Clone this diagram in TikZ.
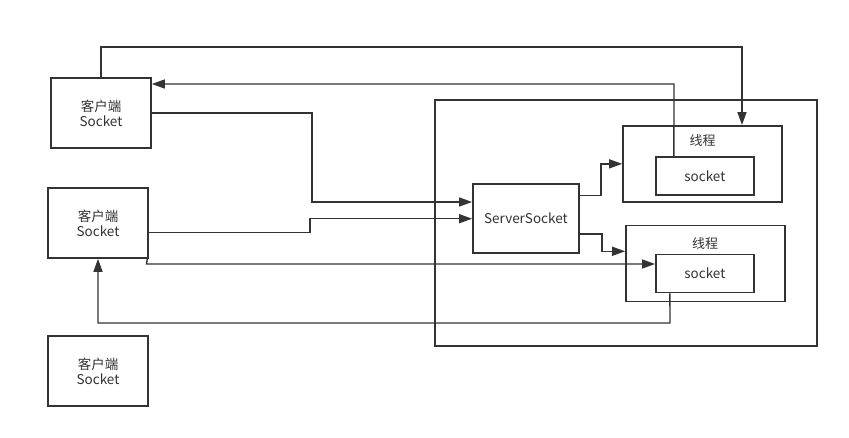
\documentclass[tikz,border=0pt]{standalone}
\usepackage{fontspec}
\setmainfont{Noto Sans CJK SC}
\usetikzlibrary{arrows.meta}
\definecolor{ink}{HTML}{333333}
\begin{document}
\begin{tikzpicture}[x=1pt,y=-1pt,
  box/.style={draw=ink,line width=1.6pt,fill=white,inner sep=0pt,text=ink,align=center,font=\fontsize{13.5}{15}\selectfont},
  lbl/.style={text=ink,inner sep=0pt,font=\fontsize{13}{15}\selectfont},
  arr/.style={draw=ink,line width=1.4pt,-{Triangle[length=13pt,width=9pt]}}]
\useasboundingbox[fill=white] (0,0) rectangle (849,438);
% outer container
\node[box,minimum width=382pt,minimum height=246pt] (outer) at (625.7,222.9) {};
% clients
\node[box,minimum width=100pt,minimum height=70pt] (c1) at (101,113) {客户端\\Socket};
\node[box,minimum width=100pt,minimum height=70pt] (c2) at (98,223) {客户端\\Socket};
\node[box,minimum width=100pt,minimum height=70pt] (c3) at (98,371) {客户端\\Socket};
% server socket
\node[box,minimum width=106pt,minimum height=69pt] (ss) at (525.9,218.7) {ServerSocket};
% threads
\node[box,minimum width=159pt,minimum height=76pt] (t1) at (702.5,163.85) {};
\node[lbl] (t1l) at (702.7,140.7) {线程};
\node[box,minimum width=98pt,minimum height=38pt] (s1) at (704.9,175.9) {socket};
\node[box,minimum width=159pt,minimum height=76pt] (t2) at (705.4,263.7) {};
\node[lbl] (t2l) at (705,243.3) {线程};
\node[box,minimum width=98pt,minimum height=38pt] (s2) at (704.9,273.5) {socket};
% connectors
\draw[arr] (c1.north) -- (101,47) -- (742,47) -- ([xshift=39.5pt]t1.north);
\draw[arr] ([xshift=-31pt]s1.north) -- (674,84) -- ([yshift=29pt]c1.east);
\draw[arr] (c1.east) -- (312,113) -- (312,202) -- ([yshift=16.7pt]ss.west);
\draw[arr] ([yshift=-9.3pt]c2.east) -- (310,232.3) -- (310,218.7) -- (ss.west);
\draw[arr] ([xshift=-1.5pt]c2.south east) -- (146.5,264) -- ([yshift=9.5pt]s2.west);
\draw[arr] ([xshift=-35pt]s2.south) -- (670,323) -- (98,323) -- (c2.south);
\draw[arr] ([yshift=23pt]ss.east) -- (601,195.7) -- (601,163.85) -- (t1.west);
\draw[arr] ([yshift=-15.3pt]ss.east) -- (602,234) -- (602,251.3) -- ([yshift=12.4pt]t2.west);
\end{tikzpicture}
\end{document}
